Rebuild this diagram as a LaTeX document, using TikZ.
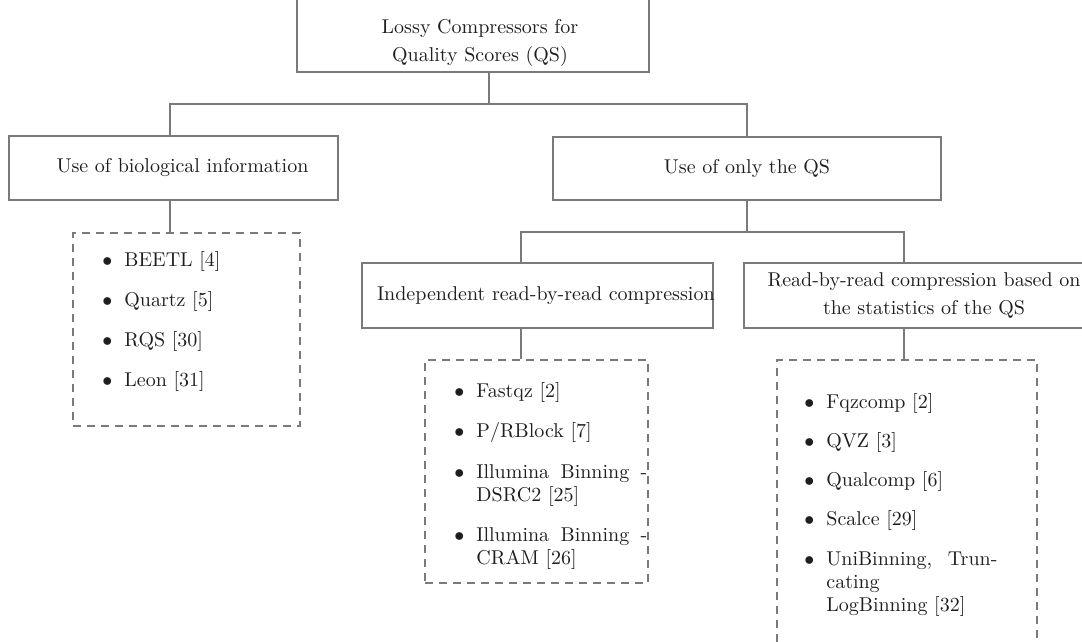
\documentclass[tikz,border=0pt]{standalone}
\usetikzlibrary{positioning}
\definecolor{linegray}{HTML}{7A7A7A}
\definecolor{textgray}{HTML}{1E1E1E}
\newcommand{\bul}{\noindent\strut\llap{$\bullet$\hspace{6pt}}}

\begin{document}
\begin{tikzpicture}[x=0.5pt,y=-0.5pt,
    hbox/.style={draw=linegray, line width=0.8pt, text=textgray, align=center, inner sep=0pt,
                 font=\fontsize{10}{13.75}\selectfont},
    leaf/.style={draw=linegray, line width=0.8pt, dash pattern=on 4pt off 3pt, inner sep=0pt},
    entry/.style={anchor=north west, inner sep=0pt, text width=85.5pt, align=justify, text=textgray,
                  font=\fontsize{10}{11.5}\selectfont},
    conn/.style={draw=linegray, line width=0.8pt}]

   \useasboundingbox (0,0) rectangle (1082,642);
   \clip (0,0) rectangle (1082,642);

   % Boxes
      \node[hbox, minimum width=176pt, minimum height=56pt] (rootbox) at (473,16) {};
      \node[hbox, draw=none]                                (root)    at (480,43) {Lossy Compressors for\\Quality Scores (QS)};
      \node[hbox, minimum width=164.5pt, minimum height=32pt]  (bio)   at (173.5,168) {\hspace{9pt}Use of biological information};
      \node[hbox, minimum width=194pt, minimum height=31.5pt]  (qs)    at (747,168.5) {Use of only the QS};
      \node[hbox, minimum width=175.5pt, minimum height=32.5pt] (indep) at (537.5,295.5) {\makebox[160.5pt][l]{Independent read-by-read compression}};
      \node[hbox, minimum width=180pt, minimum height=32.5pt]  (stat)  at (924,295.5) {Read-by-read compression based on\\the statistics of the QS};

   % Lists
      \node[leaf, minimum width=113.5pt, minimum height=96.5pt]  (bioL)  at (186.5,329.5) {};
      \node[leaf, minimum width=111.5pt, minimum height=111.5pt] (indL)  at (536.5,471.5) {};
      \node[leaf, minimum width=130pt, minimum height=170pt]     (statL) at (907,530)     {};

      \node[entry] (b1) at (124,250) {\bul BEETL [4]};
      \node[entry] (b2) at (124,290) {\bul Quartz [5]};
      \node[entry] (b3) at (124,330) {\bul RQS [30]};
      \node[entry] (b4) at (124,370) {\bul Leon [31]};

      \node[entry] (i1) at (476,381) {\bul Fastqz [2]};
      \node[entry] (i2) at (476,421) {\bul P/RBlock [7]};
      \node[entry] (i3) at (476,462) {\bul Illumina Binning -\linebreak DSRC2 [25]};
      \node[entry] (i4) at (476,525) {\bul Illumina Binning -\linebreak CRAM [26]};

      \node[entry] (s1) at (826,392) {\bul Fqzcomp [2]};
      \node[entry] (s2) at (826,431) {\bul QVZ [3]};
      \node[entry] (s3) at (826,470) {\bul Qualcomp [6]};
      \node[entry] (s4) at (826,509) {\bul Scalce [29]};
      \node[entry] (s5) at (826,549) {\bul UniBinning, Trun-\linebreak cating\newline LogBinning [32]};

   % Paths
      \coordinate (j1) at (489,104);
      \coordinate (j2) at (747,232);
      \coordinate (d1) at (521,232);
      \coordinate (d2) at (904,232);
      \coordinate (d0) at (170,104);
      \path[conn] (rootbox.south -| j1) -- (j1);
      \path[conn] (bio.north -| d0) |- (j1) -| (qs.north);
      \path[conn] (bio.south -| d0) -- (bioL.north -| d0);
      \path[conn] (qs.south) -- (j2);
      \path[conn] (indep.north -| d1) |- (d2) -- (d2 |- stat.north);
      \path[conn] (indep.south -| d1) -- (indL.north -| d1);
      \path[conn] (stat.south -| d2) -- (statL.north -| d2);
\end{tikzpicture}
\end{document}
